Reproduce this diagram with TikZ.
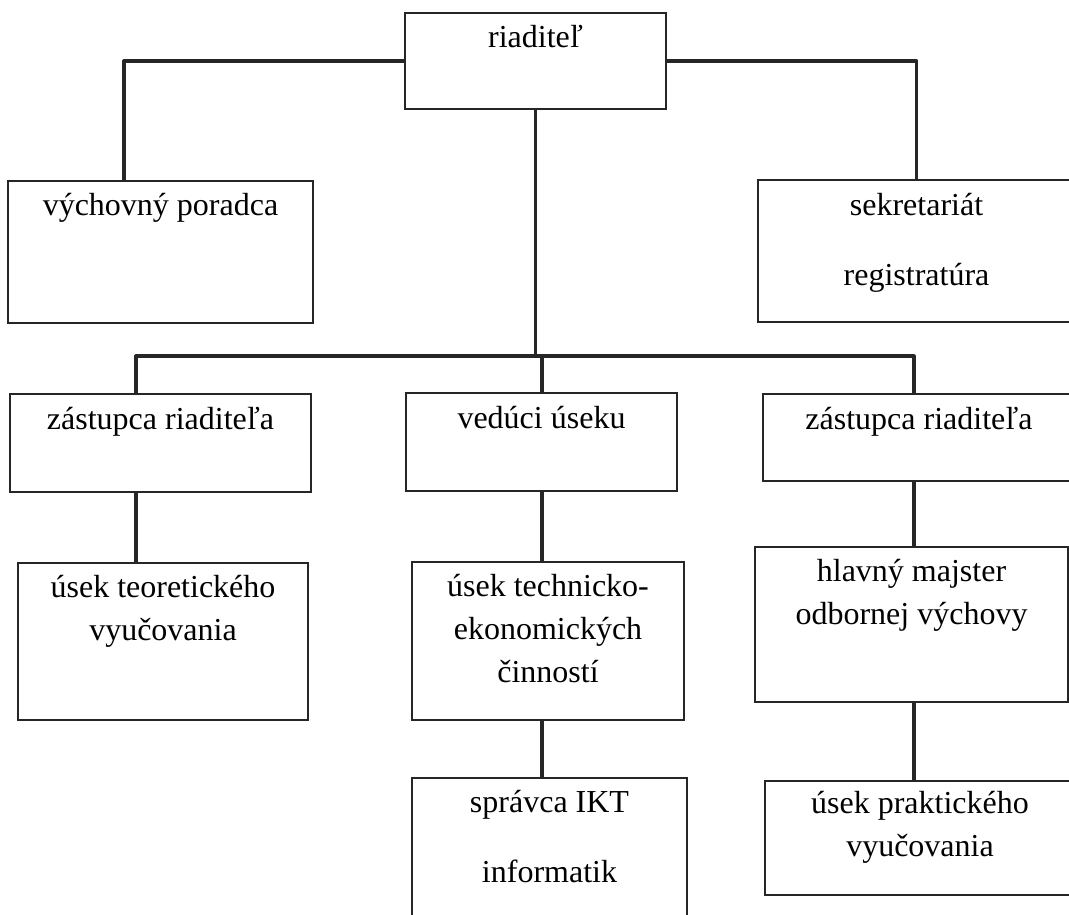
\documentclass[tikz,border=0pt]{standalone}
\usepackage{fontspec}
\setmainfont{Liberation Serif}
\usetikzlibrary{positioning}
\tikzset{
  box/.style={draw=black!85, line width=0.8pt, inner sep=0pt},
  txt/.style={font=\fontsize{16}{21.5}\selectfont, align=center, inner sep=0pt},
  conn/.style={draw=black!85, line width=1.6pt, line cap=round, line join=round}
}
\begin{document}
\begin{tikzpicture}[x=0.5pt,y=-0.5pt]
    \useasboundingbox (0,0) rectangle (1069,914);

    % boxes
    \node[box, minimum width=130.5pt, minimum height=48pt] (ria) at (535.5, 61) {};
    \node[box, minimum width=152.5pt, minimum height=71pt] (vp)  at (160.5,252) {};
    \node[box, minimum width=158.5pt, minimum height=71pt] (sek) at (916.5,251) {};
    \node[box, minimum width=150.5pt, minimum height=49pt] (zl)  at (160.5,443) {};
    \node[box, minimum width=135.5pt, minimum height=49pt] (ved) at (541.5,442) {};
    \node[box, minimum width=156pt,   minimum height=43.5pt] (zr) at (919,437.5) {};
    \node[box, minimum width=145pt,   minimum height=78.5pt] (ut) at (163,641.5) {};
    \node[box, minimum width=136pt,   minimum height=79pt] (ute) at (548,641) {};
    \node[box, minimum width=156.5pt, minimum height=77.5pt] (hm) at (911.5,624.5) {};
    \node[box, minimum width=137.5pt, minimum height=76pt] (sp)  at (549.5,854) {};
    \node[box, minimum width=155pt,   minimum height=57pt] (up)  at (920,838) {};

    % texts
    \node[txt, below=6.5pt of ria.north] (ria-t) {riaditeľ};
    \node[txt, below=6.5pt of vp.north]  (vp-t)  {výchovný poradca};
    \node[txt, below=7pt of sek.north] (sek-t) {sekretariát\\[13.5pt]registratúra};
    \node[txt, below=7pt of zl.north]  (zl-t)  {zástupca riaditeľa};
    \node[txt, below=7pt of ved.north] (ved-t) {vedúci úseku};
    \node[txt, below=7pt of zr.north]  (zr-t)  {zástupca riaditeľa};
    \node[txt, below=6.5pt of ut.north]  (ut-t)  {úsek teoretického\\vyučovania};
    \node[txt, below=6.5pt of ute.north] (ute-t) {úsek technicko-\\ekonomických\\činností};
    \node[txt, below=6.5pt of hm.north]  (hm-t)  {hlavný majster\\odbornej výchovy};
    \node[txt, below=6.5pt of sp.north]  (sp-t)  {správca IKT\\[13.5pt]informatik};
    \node[txt, below=5.5pt of up.north]  (up-t)  {úsek praktického\\vyučovania};

    % connectors
    \coordinate (colL) at (136,356);
    \coordinate (colM) at (542,356);
    \coordinate (colR) at (914,356);

    \draw[conn] (ria.west) -| ([xshift=-18.25pt]vp.north);
    \draw[conn] (ria.east) -| (sek.north);
    \draw[conn] (ria.south) -- (ria.south |- colM);
    \draw[conn] (colL |- zl.north) -- (colL) -- (colR) -- (colR |- zr.north);
    \draw[conn] (colM) -- (colM |- ved.north);
    \draw[conn] (colL |- zl.south)  -- (colL |- ut.north);
    \draw[conn] (colM |- ved.south) -- (colM |- ute.north);
    \draw[conn] (colM |- ute.south) -- (colM |- sp.north);
    \draw[conn] (colR |- zr.south)  -- (colR |- hm.north);
    \draw[conn] (colR |- hm.south)  -- (colR |- up.north);
\end{tikzpicture}
\end{document}
